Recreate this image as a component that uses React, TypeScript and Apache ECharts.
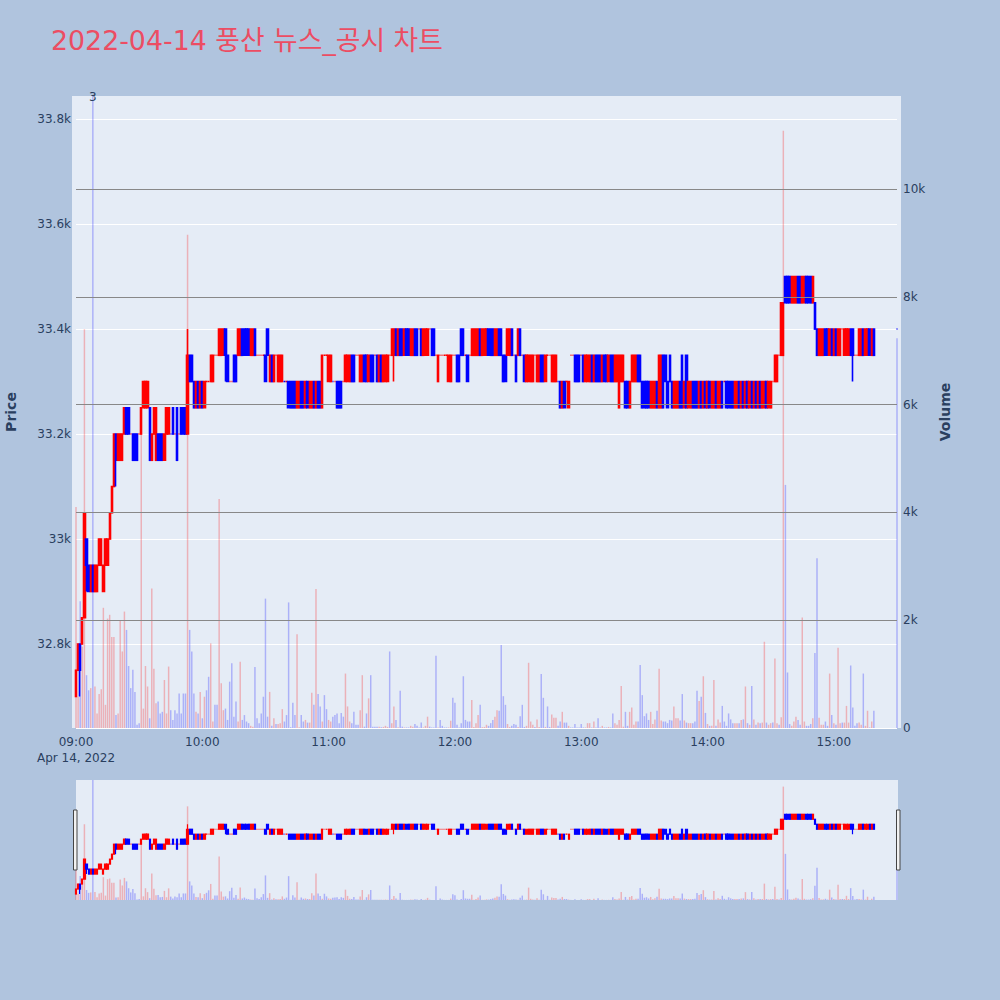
import React, { useEffect, useRef } from 'react';
import * as echarts from 'echarts';

// 1-minute bars, 09:00 .. 15:19, then the closing auction print at 15:30
const openPrices: (number | null)[] = [
  32700, 32750, 32800, 32800, 32850, 33000, 32950, 32900, 32950, 32900,
  32900, 32950, 32950, 32900, 32950, 32950, 33000, 33050, 33100, 33200,
  33150, 33150, 33150, 33200, 33250, 33250, 33200, 33200, 33200, 33200,
  33200, 33200, 33250, 33250, 33250, 33250, 33150, 33200, 33150, 33200,
  33200, 33200, 33150, 33200, 33200, 33200, 33250, 33200, 33250, 33200,
  33250, 33250, 33250, 33200, 33350, 33350, 33300, 33250, 33300, 33250,
  33300, 33250, 33300, 33300, 33300, 33300, 33350, 33350, 33350, 33350,
  33350, 33400, 33350, 33300, 33300, 33350, 33350, 33350, 33350, 33400,
  33400, 33400, 33400, 33350, 33350, 33400, 33350, 33350, 33350, 33350,
  33350, 33400, 33300, 33350, 33300, 33350, 33300, 33300, 33300, 33300,
  33300, 33300, 33300, 33300, 33300, 33250, 33250, 33300, 33300, 33250,
  33300, 33250, 33250, 33300, 33250, 33300, 33300, 33250, 33350, 33350,
  33300, 33300, 33300, 33300, 33300, 33300, 33300, 33300, 33300, 33300,
  33300, 33350, 33350, 33350, 33350, 33300, 33300, 33350, 33350, 33300,
  33350, 33350, 33350, 33350, 33300, 33350, 33300, 33300, 33300, 33350,
  33350, 33350, 33400, 33350, 33400, 33400, 33350, 33400, 33400, 33350,
  33350, 33400, 33400, 33400, 33400, 33350, 33350, 33350, 33400, 33400,
  33400, 33350, 33300, 33350, 33350, 33350, 33350, 33300, 33300, 33350,
  33350, 33350, 33350, 33400, 33400, 33350, 33350, 33350, 33350, 33350,
  33350, 33350, 33400, 33350, 33350, 33350, 33400, 33400, 33400, 33350,
  33350, 33400, 33400, 33350, 33350, 33350, 33350, 33400, 33350, 33350,
  33350, 33400, 33350, 33350, 33300, 33300, 33300, 33300, 33350, 33300,
  33300, 33350, 33350, 33300, 33350, 33350, 33300, 33300, 33300, 33300,
  33300, 33250, 33300, 33300, 33250, 33350, 33350, 33350, 33350, 33350,
  33350, 33350, 33300, 33300, 33300, 33350, 33300, 33350, 33350, 33350,
  33300, 33350, 33350, 33300, 33350, 33350, 33300, 33300, 33250, 33300,
  33300, 33300, 33300, 33250, 33300, 33300, 33300, 33350, 33350, 33300,
  33300, 33300, 33300, 33250, 33250, 33250, 33300, 33250, 33250, 33350,
  33350, 33300, 33350, 33300, 33250, 33250, 33250, 33300, 33350, 33250,
  33350, 33250, 33250, 33300, 33300, 33300, 33250, 33300, 33250, 33300,
  33250, 33300, 33250, 33250, 33300, 33250, 33250, 33300, 33300, 33300,
  33300, 33300, 33300, 33250, 33250, 33300, 33250, 33300, 33250, 33300,
  33250, 33300, 33250, 33300, 33250, 33300, 33250, 33250, 33300, 33250,
  33250, 33300, 33300, 33300, 33350, 33350, 33350, 33500, 33500, 33500,
  33450, 33450, 33450, 33500, 33500, 33450, 33450, 33500, 33500, 33500,
  33450, 33450, 33400, 33350, 33350, 33350, 33400, 33400, 33350, 33400,
  33350, 33400, 33350, 33350, 33400, 33350, 33350, 33350, 33400, 33400,
  33350, 33350, 33350, 33350, 33400, 33350, 33350, 33400, 33350, 33400,
  null, null, null, null, null, null, null, null, null, null,
  33400,
];

const closePrices: (number | null)[] = [
  32750, 32800, 32750, 32850, 33050, 32950, 32900, 32950, 32900, 32950,
  32950, 33000, 33000, 32950, 33000, 33000, 33050, 33100, 33200, 33150,
  33200, 33200, 33200, 33250, 33200, 33200, 33200, 33150, 33150, 33150,
  33200, 33250, 33300, 33300, 33300, 33150, 33200, 33250, 33250, 33150,
  33150, 33150, 33200, 33250, 33250, 33200, 33200, 33200, 33150, 33200,
  33200, 33200, 33200, 33350, 33300, 33300, 33250, 33300, 33250, 33300,
  33250, 33300, 33300, 33300, 33350, 33350, 33350, 33350, 33400, 33400,
  33400, 33350, 33300, 33300, 33300, 33300, 33300, 33400, 33400, 33350,
  33350, 33350, 33350, 33400, 33400, 33350, 33350, 33350, 33350, 33350,
  33300, 33350, 33350, 33300, 33350, 33350, 33350, 33350, 33350, 33300,
  33300, 33250, 33250, 33250, 33250, 33300, 33300, 33250, 33250, 33300,
  33250, 33300, 33300, 33250, 33300, 33250, 33250, 33350, 33350, 33350,
  33350, 33350, 33300, 33300, 33250, 33250, 33250, 33300, 33350, 33350,
  33350, 33300, 33300, 33350, 33350, 33350, 33350, 33300, 33300, 33350,
  33300, 33300, 33350, 33300, 33350, 33300, 33350, 33350, 33350, 33350,
  33400, 33400, 33350, 33400, 33350, 33350, 33400, 33350, 33350, 33400,
  33400, 33350, 33350, 33400, 33350, 33400, 33400, 33400, 33400, 33350,
  33350, 33350, 33350, 33350, 33350, 33350, 33350, 33350, 33350, 33350,
  33350, 33300, 33300, 33350, 33350, 33350, 33300, 33350, 33400, 33400,
  33400, 33400, 33350, 33400, 33400, 33400, 33350, 33350, 33350, 33400,
  33400, 33350, 33350, 33300, 33300, 33400, 33400, 33350, 33350, 33300,
  33400, 33350, 33350, 33300, 33350, 33350, 33350, 33350, 33350, 33350,
  33350, 33300, 33300, 33350, 33350, 33350, 33350, 33350, 33350, 33300,
  33250, 33300, 33250, 33300, 33300, 33350, 33350, 33300, 33300, 33300,
  33350, 33300, 33350, 33350, 33350, 33300, 33350, 33300, 33300, 33300,
  33350, 33300, 33300, 33350, 33300, 33300, 33350, 33350, 33350, 33350,
  33350, 33250, 33250, 33300, 33350, 33350, 33350, 33300, 33300, 33250,
  33250, 33250, 33250, 33300, 33300, 33300, 33250, 33350, 33350, 33250,
  33300, 33250, 33300, 33250, 33300, 33300, 33300, 33250, 33250, 33300,
  33250, 33300, 33300, 33250, 33250, 33250, 33300, 33250, 33300, 33250,
  33300, 33250, 33300, 33300, 33250, 33300, 33300, 33250, 33300, 33250,
  33250, 33250, 33250, 33300, 33300, 33250, 33300, 33250, 33300, 33250,
  33300, 33250, 33300, 33250, 33300, 33250, 33300, 33300, 33250, 33300,
  33300, 33300, 33350, 33350, 33350, 33450, 33450, 33450, 33450, 33450,
  33500, 33500, 33500, 33450, 33450, 33500, 33500, 33450, 33450, 33450,
  33500, 33400, 33350, 33400, 33400, 33400, 33350, 33350, 33400, 33350,
  33400, 33350, 33400, 33400, 33400, 33400, 33400, 33400, 33350, 33350,
  33350, 33350, 33400, 33400, 33350, 33400, 33400, 33350, 33400, 33350,
  null, null, null, null, null, null, null, null, null, null,
  33400,
];

// bars whose wick reaches past the body: [time, low, high]
const wicks: [string, number, number][] = [
  ['09:02', 32700, 32800],
  ['09:05', 32900, 33000],
  ['09:19', 33100, 33200],
  ['09:53', 33200, 33400],
  ['10:11', 33300, 33400],
  ['11:31', 33300, 33400],
  ['15:09', 33300, 33400],
];

const volumes: (number | null)[] = [
  4100, 580, 2350, 1510, 7400, 980, 700, 740, 12500, 770,
  270, 630, 720, 2230, 430, 2030, 2100, 1690, 1690, 240,
  270, 2000, 1420, 2160, 1820, 1150, 740, 1080, 670, 60,
  90, 5940, 360, 1150, 770, 180, 2590, 1100, 460, 490,
  270, 300, 890, 270, 1140, 330, 150, 330, 270, 640,
  270, 640, 640, 9150, 1820, 1420, 640, 300, 270, 670,
  180, 580, 700, 950, 1570, 120, 430, 430, 4250, 830,
  330, 360, 150, 860, 1200, 210, 490, 120, 1230, 150,
  240, 120, 90, 40, 25, 1130, 180, 90, 270, 580,
  2400, 210, 670, 40, 180, 75, 75, 90, 350, 120,
  240, 2330, 15, 470, 240, 1740, 15, 240, 120, 150,
  100, 100, 655, 430, 2580, 630, 400, 120, 610, 350,
  150, 120, 210, 240, 270, 90, 280, 210, 1010, 400,
  120, 90, 300, 60, 60, 330, 980, 25, 270, 550,
  980, 25, 25, 25, 25, 15, 20, 40, 20, 1420,
  90, 400, 150, 15, 690, 25, 10, 10, 10, 40,
  25, 75, 40, 10, 100, 10, 40, 210, 25, 10,
  10, 1340, 10, 150, 40, 10, 10, 10, 135, 560,
  470, 60, 10, 90, 960, 150, 120, 120, 520, 20,
  90, 240, 430, 15, 20, 60, 40, 90, 150, 210,
  330, 320, 1540, 590, 430, 75, 20, 40, 75, 60,
  20, 220, 430, 20, 40, 1210, 120, 60, 20, 160,
  20, 1000, 560, 20, 400, 20, 250, 190, 190, 40,
  120, 300, 100, 100, 40, 10, 10, 75, 10, 10,
  75, 10, 10, 90, 90, 10, 120, 10, 180, 10,
  40, 10, 10, 20, 10, 270, 90, 60, 150, 780,
  25, 300, 40, 300, 380, 60, 120, 120, 1170, 610,
  220, 270, 150, 300, 75, 160, 320, 1100, 140, 120,
  120, 90, 150, 140, 400, 180, 180, 140, 630, 140,
  100, 90, 90, 90, 120, 690, 500, 580, 960, 280,
  75, 40, 40, 890, 40, 160, 100, 410, 120, 40,
  270, 160, 90, 90, 90, 90, 150, 160, 770, 90,
  60, 780, 160, 60, 100, 90, 100, 1600, 100, 60,
  90, 100, 1290, 90, 60, 200, 11080, 4510, 1030, 75,
  40, 120, 210, 150, 60, 2050, 120, 40, 40, 75,
  180, 1390, 3150, 190, 60, 60, 120, 40, 1010, 240,
  90, 60, 1490, 90, 100, 100, 410, 100, 1160, 380,
  40, 90, 100, 60, 1010, 40, 320, 10, 120, 320,
  null, null, null, null, null, null, null, null, null, null,
  7230,
];

// news / disclosure counts shown above the volume bars
const newsMarks: [string, number][] = [['09:08', 3]];

// minute axis 09:00 .. 15:30
const times: string[] = [];
for (let m = 0; m <= 390; m++) {
  const h = 9 + Math.floor(m / 60);
  const mm = m % 60;
  times.push(`${String(h).padStart(2, '0')}:${String(mm).padStart(2, '0')}`);
}

const FONT = "'DejaVu Sans', Verdana, sans-serif";
const TEXT = '#2a3f5f';
const UP = '#FF0000';
const DOWN = '#0000FF';
const PRICE_MIN = 32640;
const PRICE_MAX = 33844;
const VOL_MAX = 11725;

const App: React.FC = () => {
  const chartRef = useRef<HTMLDivElement>(null);

  useEffect(() => {
    if (!chartRef.current) return;
    const chart = echarts.init(chartRef.current, undefined, { renderer: 'svg' });

    const wickMap = new Map(wicks.map((w) => [w[0], w]));
    const candleData = times.map((t, i) => {
      const o = openPrices[i];
      const c = closePrices[i];
      if (o == null || c == null) return '-';
      const w = wickMap.get(t);
      const low = w ? w[1] : Math.min(o, c);
      const high = w ? w[2] : Math.max(o, c);
      return [o, c, low, high];
    });
    const volumeData = times.map((_, i) => {
      const v = volumes[i];
      const o = openPrices[i];
      const c = closePrices[i];
      if (v == null || o == null || c == null) return '-';
      const up = c > o;
      return {
        value: v,
        itemStyle: { color: up ? 'rgba(255,0,0,0.25)' : 'rgba(0,0,255,0.25)' },
      };
    });

    const candleStyle = {
      color: UP,
      color0: DOWN,
      borderColor: UP,
      borderColor0: DOWN,
      borderWidth: 1.6,
    };
    const tickText = { color: TEXT, fontSize: 12, fontFamily: FONT };

    const option: any = {
      animation: false,
      backgroundColor: '#B0C4DE',
      textStyle: { fontFamily: FONT },
      title: {
        text: '2022-04-14 풍산 뉴스_공시 차트',
        left: 46,
        top: 22,
        textStyle: {
          color: '#EC4D63',
          fontSize: 26.8,
          fontWeight: 'normal',
          fontFamily: "'DejaVu Sans', 'Noto Sans CJK KR', sans-serif",
        },
      },
      graphic: {
        elements: [
          {
            type: 'rect',
            z: -10,
            silent: true,
            shape: { x: 72, y: 96, width: 829, height: 632 },
            style: { fill: '#E5ECF6' },
          },
          {
            type: 'rect',
            z: -10,
            silent: true,
            shape: { x: 76, y: 780, width: 822, height: 120 },
            style: { fill: '#E5ECF6' },
          },
          {
            type: 'rect',
            z: 20,
            silent: true,
            shape: { x: 73.5, y: 810, width: 3.5, height: 60 },
            style: { fill: '#f2f2f2', stroke: '#444', lineWidth: 1 },
          },
          {
            type: 'rect',
            z: 20,
            silent: true,
            shape: { x: 896.5, y: 810, width: 3.5, height: 60 },
            style: { fill: '#f2f2f2', stroke: '#444', lineWidth: 1 },
          },
        ],
      },
      grid: [
        { left: 76, top: 96, width: 821, height: 632, containLabel: false, outerBoundsMode: 'none' },
        { left: 76, top: 780, width: 821, height: 120, containLabel: false, outerBoundsMode: 'none' },
      ],
      xAxis: [
        {
          type: 'category',
          gridIndex: 0,
          data: times,
          boundaryGap: false,
          axisLine: { show: false },
          axisTick: { show: false },
          splitLine: { show: false },
          axisLabel: {
            ...tickText,
            margin: 6,
            lineHeight: 16,
            interval: (_: number, v: string) => v.endsWith(':00'),
            formatter: (v: string) => (v === '09:00' ? '09:00\nApr 14, 2022' : v),
          },
        },
        {
          type: 'category',
          gridIndex: 1,
          data: times,
          boundaryGap: false,
          show: false,
        },
      ],
      yAxis: [
        {
          type: 'value',
          gridIndex: 0,
          position: 'left',
          min: PRICE_MIN,
          max: PRICE_MAX,
          splitNumber: 6,
          minInterval: 200,
          maxInterval: 200,
          name: 'Price',
          nameLocation: 'middle',
          nameRotate: 90,
          nameGap: 58,
          nameTextStyle: { color: TEXT, fontSize: 14, fontWeight: 'bold', fontFamily: FONT },
          axisLine: { show: false },
          axisTick: { show: false },
          axisLabel: {
            ...tickText,
            margin: 5,
            showMinLabel: false,
            showMaxLabel: false,
            formatter: (v: number) => `${v / 1000}k`,
          },
          splitLine: { show: true, showMaxLine: false, lineStyle: { color: '#ffffff', width: 1 } },
        },
        {
          type: 'value',
          gridIndex: 0,
          position: 'right',
          min: 0,
          max: VOL_MAX,
          interval: 2000,
          z: 4,
          name: 'Volume',
          nameLocation: 'middle',
          nameRotate: 90,
          nameGap: 41,
          nameTextStyle: { color: TEXT, fontSize: 14, fontWeight: 'bold', fontFamily: FONT },
          axisLine: { show: false },
          axisTick: { show: false },
          axisLabel: {
            ...tickText,
            margin: 6,
            showMaxLabel: false,
            formatter: (v: number) => (v === 0 ? '0' : `${v / 1000}k`),
          },
          splitLine: {
            show: true,
            showMinLine: false,
            showMaxLine: false,
            lineStyle: { color: '#888888', width: 1 },
          },
        },
        { type: 'value', gridIndex: 1, min: PRICE_MIN, max: PRICE_MAX, show: false, splitLine: { show: false } },
        { type: 'value', gridIndex: 1, min: 0, max: VOL_MAX, show: false, splitLine: { show: false } },
      ],
      series: [
        {
          name: 'Volume',
          type: 'bar',
          xAxisIndex: 0,
          yAxisIndex: 1,
          data: volumeData,
          barWidth: '70%',
          z: 2,
          markPoint: {
            symbol: 'rect',
            symbolSize: 1,
            itemStyle: { color: 'rgba(0,0,0,0)' },
            label: {
              show: true,
              position: 'inside',
              offset: [0, 1],
              color: TEXT,
              fontSize: 12,
              fontFamily: FONT,
              formatter: (p: any) => String(p.value),
            },
            data: newsMarks.map(([t, n]) => ({ coord: [t, VOL_MAX], value: n })),
          },
        },
        {
          name: 'Price',
          type: 'candlestick',
          xAxisIndex: 0,
          yAxisIndex: 0,
          data: candleData,
          barWidth: '85%',
          clip: false,
          z: 3,
          itemStyle: candleStyle,
        },
        {
          name: 'VolumeMini',
          type: 'bar',
          xAxisIndex: 1,
          yAxisIndex: 3,
          data: volumeData,
          barWidth: '70%',
          z: 2,
        },
        {
          name: 'PriceMini',
          type: 'candlestick',
          xAxisIndex: 1,
          yAxisIndex: 2,
          data: candleData,
          barWidth: '80%',
          clip: false,
          z: 3,
          itemStyle: { ...candleStyle, borderWidth: 1.2 },
        },
      ],
    };

    chart.setOption(option);

    return () => {
      chart.dispose();
    };
  }, []);

  return (
    <div
      ref={chartRef}
      style={{ position: 'absolute', left: 0, top: 0, width: '1000px', height: '1000px' }}
    />
  );
};

export default App;
